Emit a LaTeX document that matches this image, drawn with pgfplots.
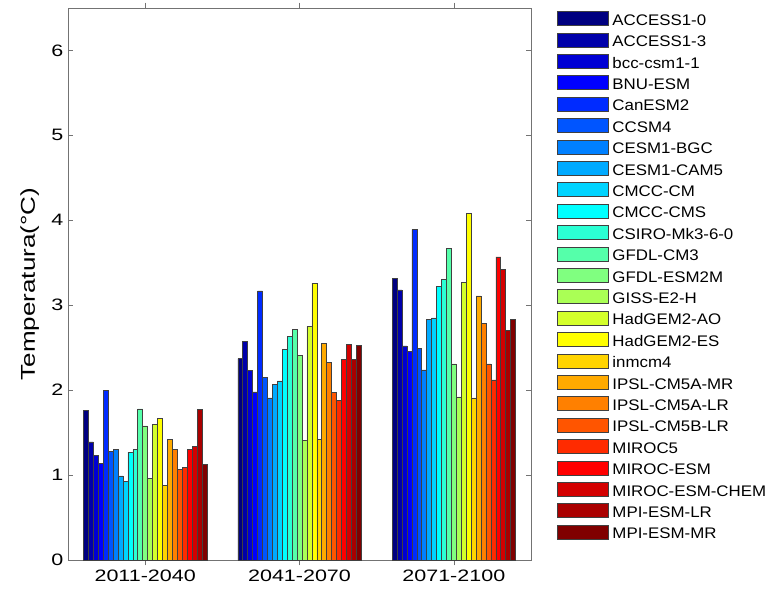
\documentclass[border=0pt]{standalone}
\usepackage{fontspec}
\setmainfont{Liberation Sans}
\newfontfamily\widefont[FakeStretch=1.3]{Liberation Sans}
\newfontfamily\legfont[FakeStretch=1.1]{Liberation Sans}
\usepackage{pgfplots}
\pgfplotsset{compat=1.18}

% jet colours, one per model
\definecolor{c1}{rgb}{0,0,0.5}
\definecolor{c2}{rgb}{0,0,0.667}
\definecolor{c3}{rgb}{0,0,0.833}
\definecolor{c4}{rgb}{0,0,1}
\definecolor{c5}{rgb}{0,0.167,1}
\definecolor{c6}{rgb}{0,0.333,1}
\definecolor{c7}{rgb}{0,0.5,1}
\definecolor{c8}{rgb}{0,0.667,1}
\definecolor{c9}{rgb}{0,0.833,1}
\definecolor{c10}{rgb}{0,1,1}
\definecolor{c11}{rgb}{0.167,1,0.833}
\definecolor{c12}{rgb}{0.333,1,0.667}
\definecolor{c13}{rgb}{0.5,1,0.5}
\definecolor{c14}{rgb}{0.667,1,0.333}
\definecolor{c15}{rgb}{0.833,1,0.167}
\definecolor{c16}{rgb}{1,1,0}
\definecolor{c17}{rgb}{1,0.833,0}
\definecolor{c18}{rgb}{1,0.667,0}
\definecolor{c19}{rgb}{1,0.5,0}
\definecolor{c20}{rgb}{1,0.333,0}
\definecolor{c21}{rgb}{1,0.167,0}
\definecolor{c22}{rgb}{1,0,0}
\definecolor{c23}{rgb}{0.833,0,0}
\definecolor{c24}{rgb}{0.667,0,0}
\definecolor{c25}{rgb}{0.5,0,0}

\begin{document}
\begin{tikzpicture}
\useasboundingbox (-51pt,-24pt) rectangle (531.75pt,420pt);
\begin{axis}[
  at={(0,0)}, anchor=south west,
  scale only axis, width=347.25pt, height=414pt,
  xmin=0.5, xmax=3.5, ymin=0, ymax=6.5,
  ybar=0pt, bar width=0.032,
  xtick={1,2,3}, xticklabels={2011-2040,2041-2070,2071-2100},
  ytick={0,1,2,3,4,5,6},
  axis line style={black!55},
  tick style={black!55},
  major tick length=4pt,
  ticklabel style={font=\widefont\fontsize{12.4}{14}\selectfont},
  /pgf/number format/assume math mode=true,
  ylabel={Temperatura(°C)},
  every axis y label/.style={at={(axis description cs:-0.0713,0.5)}, rotate=90, anchor=base, font=\widefont\fontsize{15}{17}\selectfont},
  every axis plot/.append style={draw=black!75, line width=0.4pt},
  legend cell align=left,
  legend image code/.code={\draw[#1] (0pt,-3.4pt) rectangle (38pt,7.1pt);},
  legend style={at={(1.0562,0.9946)}, anchor=north west, draw=none, fill=none,
    inner sep=0pt, font=\legfont\fontsize{11.5}{13}\selectfont, row sep=3.5pt,
    nodes={inner sep=0pt, text height=8.5pt, text depth=2pt},
    /tikz/every odd column/.style={column sep=3pt}},
  legend entries={ACCESS1-0,ACCESS1-3,bcc-csm1-1,BNU-ESM,CanESM2,CCSM4,CESM1-BGC,CESM1-CAM5,CMCC-CM,CMCC-CMS,CSIRO-Mk3-6-0,GFDL-CM3,GFDL-ESM2M,GISS-E2-H,HadGEM2-AO,HadGEM2-ES,inmcm4,IPSL-CM5A-MR,IPSL-CM5A-LR,IPSL-CM5B-LR,MIROC5,MIROC-ESM,MIROC-ESM-CHEM,MPI-ESM-LR,MPI-ESM-MR},
]
\addplot[fill=c1]  coordinates {(1,1.76) (2,2.37) (3,3.32)};
\addplot[fill=c2]  coordinates {(1,1.39) (2,2.57) (3,3.18)};
\addplot[fill=c3]  coordinates {(1,1.23) (2,2.23) (3,2.52)};
\addplot[fill=c4]  coordinates {(1,1.14) (2,1.98) (3,2.46)};
\addplot[fill=c5]  coordinates {(1,2.00) (2,3.17) (3,3.89)};
\addplot[fill=c6]  coordinates {(1,1.28) (2,2.15) (3,2.49)};
\addplot[fill=c7]  coordinates {(1,1.30) (2,1.91) (3,2.24)};
\addplot[fill=c8]  coordinates {(1,0.99) (2,2.07) (3,2.83)};
\addplot[fill=c9]  coordinates {(1,0.93) (2,2.11) (3,2.85)};
\addplot[fill=c10] coordinates {(1,1.27) (2,2.48) (3,3.22)};
\addplot[fill=c11] coordinates {(1,1.30) (2,2.63) (3,3.30)};
\addplot[fill=c12] coordinates {(1,1.78) (2,2.72) (3,3.67)};
\addplot[fill=c13] coordinates {(1,1.58) (2,2.41) (3,2.31)};
\addplot[fill=c14] coordinates {(1,0.96) (2,1.41) (3,1.92)};
\addplot[fill=c15] coordinates {(1,1.60) (2,2.75) (3,3.27)};
\addplot[fill=c16] coordinates {(1,1.67) (2,3.26) (3,4.08)};
\addplot[fill=c17] coordinates {(1,0.88) (2,1.42) (3,1.91)};
\addplot[fill=c18] coordinates {(1,1.42) (2,2.55) (3,3.11)};
\addplot[fill=c19] coordinates {(1,1.30) (2,2.33) (3,2.79)};
\addplot[fill=c20] coordinates {(1,1.07) (2,1.97) (3,2.31)};
\addplot[fill=c21] coordinates {(1,1.09) (2,1.88) (3,2.12)};
\addplot[fill=c22] coordinates {(1,1.30) (2,2.36) (3,3.57)};
\addplot[fill=c23] coordinates {(1,1.34) (2,2.54) (3,3.42)};
\addplot[fill=c24] coordinates {(1,1.77) (2,2.36) (3,2.70)};
\addplot[fill=c25] coordinates {(1,1.13) (2,2.53) (3,2.83)};
\end{axis}
\end{tikzpicture}
\end{document}
